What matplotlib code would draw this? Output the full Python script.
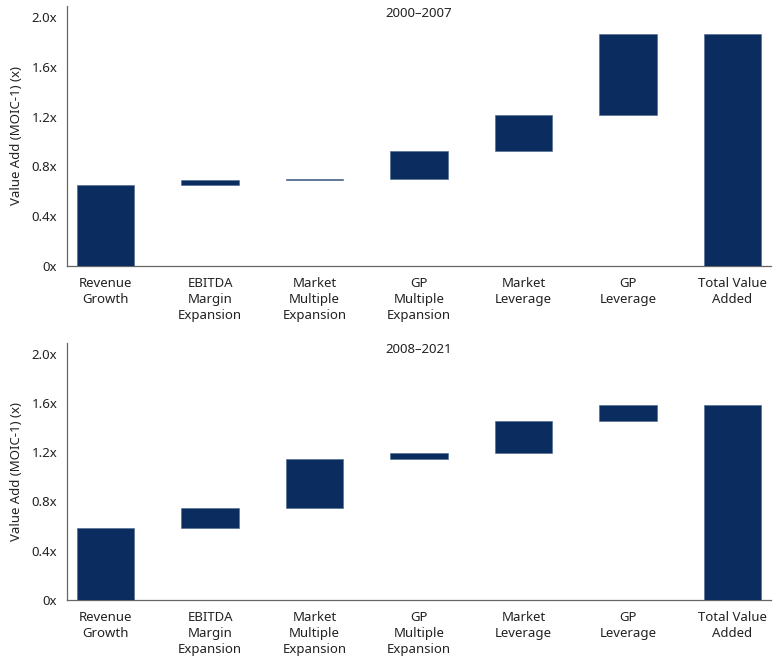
import matplotlib
matplotlib.use('Agg')
import matplotlib.pyplot as plt
import matplotlib.transforms as mtransforms
import numpy as np

plt.rcParams['font.family'] = ['Noto Sans', 'DejaVu Sans']

CATEGORIES = ['Revenue\nGrowth', 'EBITDA\nMargin\nExpansion', 'Market\nMultiple\nExpansion',
              'GP\nMultiple\nExpansion', 'Market\nLeverage', 'GP\nLeverage', 'Total Value\nAdded']
YTICKS = [0, 0.4, 0.8, 1.2, 1.6, 2.0]
YTICK_LABELS = ['0x', '0.4x', '0.8x', '1.2x', '1.6x', '2.0x']

# step contributions (MOIC-1), last bar is the total
PERIODS = ['2000–2007', '2008–2021']
STEPS_2000_2007 = [0.65, 0.045, 0.005, 0.225, 0.285, 0.655]
STEPS_2008_2021 = [0.585, 0.16, 0.40, 0.045, 0.265, 0.13]

NAVY = '#0b2c5e'
SPINE = '#666666'
TEXT = '#222222'


def waterfall(fig, ax, steps, title):
    steps = np.array(steps)
    tops = np.cumsum(steps)
    bottoms = tops - steps
    total = tops[-1]
    heights = list(steps) + [total]
    bases = list(bottoms) + [0]
    x = np.arange(len(CATEGORIES))
    ax.bar(x, heights, bottom=bases, width=0.55, color=NAVY,
           edgecolor='#4a6590', linewidth=0.4, zorder=3)

    ax.set_xlim(-0.37, len(CATEGORIES) - 0.63)
    ax.set_ylim(0, 2.09)
    ax.set_yticks(YTICKS)
    ax.set_yticklabels(YTICK_LABELS, fontsize=9.5, color=TEXT)
    # labels sit a few px above their gridline in the original
    shift = mtransforms.ScaledTranslation(0, 4 / 100, fig.dpi_scale_trans)
    for lbl in ax.get_yticklabels():
        lbl.set_transform(lbl.get_transform() + shift)
    ax.set_xticks(x)
    ax.set_xticklabels(CATEGORIES, fontsize=9.5, color=TEXT, linespacing=1.3)
    ax.tick_params(axis='both', length=0)
    ax.tick_params(axis='x', pad=8)
    ax.tick_params(axis='y', pad=7)
    for s in ('top', 'right'):
        ax.spines[s].set_visible(False)
    for s in ('left', 'bottom'):
        ax.spines[s].set_color(SPINE)
        ax.spines[s].set_linewidth(0.9)
    ax.set_ylabel('Value Add (MOIC-1) (x)', fontsize=9.5, color=TEXT, labelpad=6)
    ax.text(0.5, 0.972, title, transform=ax.transAxes, ha='center', va='center',
            fontsize=9.5, color=TEXT)


fig = plt.figure(figsize=(7.8, 6.6), dpi=100)
ax_top = fig.add_axes([0.086, 0.597, 0.9025, 0.394])
ax_bot = fig.add_axes([0.086, 0.091, 0.9025, 0.390])

waterfall(fig, ax_top, STEPS_2000_2007, PERIODS[0])
waterfall(fig, ax_bot, STEPS_2008_2021, PERIODS[1])

fig.savefig('out.png', dpi=100)
